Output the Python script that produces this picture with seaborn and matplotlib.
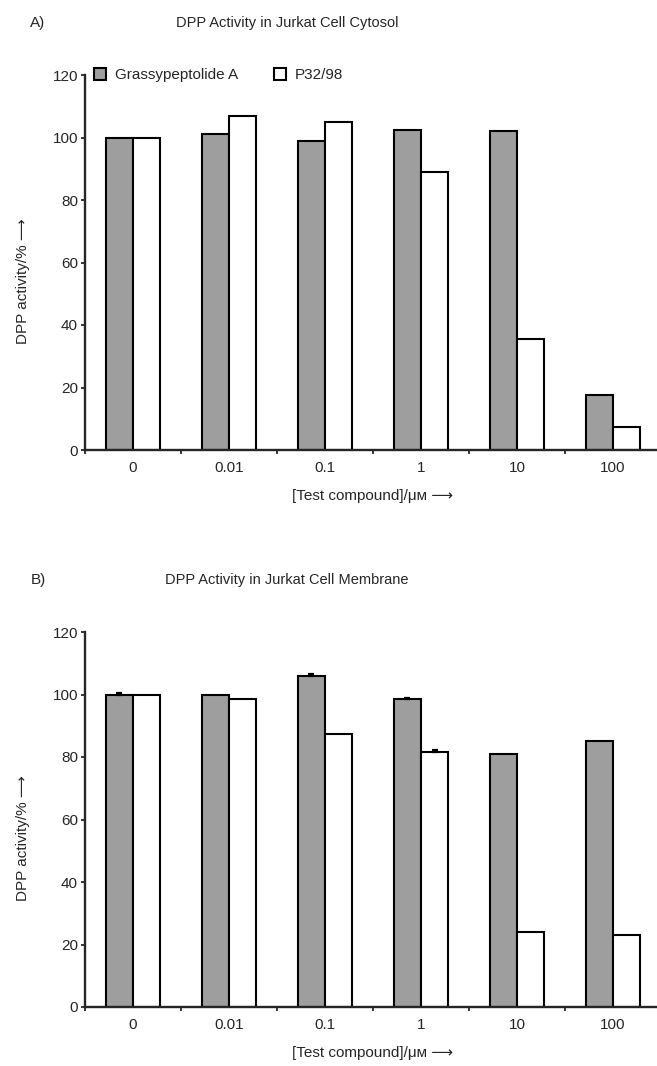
# DPP activity bar charts, two panels (cytosol / membrane)

import numpy as np
import pandas as pd
import matplotlib
matplotlib.use("Agg")
import matplotlib.pyplot as plt
import matplotlib.ticker as ticker
import seaborn as sns

# Data
concentrations = ["0", "0.01", "0.1", "1", "10", "100"]
compounds = ["Grassypeptolide A", "P32/98"]

cytosol_grassy = [100, 101, 99, 102.5, 102, 17.5]
cytosol_p32 = [100, 107, 105, 89, 35.5, 7.5]

membrane_grassy = [100, 100, 106, 98.5, 81, 85]
membrane_p32 = [100, 98.5, 87.5, 81.5, 24, 23]
membrane_grassy_err = [0.6, 0, 0.7, 0.5, 0, 0]
membrane_p32_err = [0, 0, 0, 0.6, 0, 0]

y_ticks = [0, 20, 40, 60, 80, 100, 120]

sns.set_style("ticks")
plt.rcParams["font.family"] = ["Liberation Sans", "DejaVu Sans"]

PALETTE = {"Grassypeptolide A": "#9e9e9e", "P32/98": "white"}
W, H = 657, 1066
FS = 11


def make_df(grassy, p32):
    return pd.DataFrame({
        "conc": concentrations * 2,
        "compound": [compounds[0]] * 6 + [compounds[1]] * 6,
        "value": list(grassy) + list(p32),
    })


def draw_panel(ax, df, errs=None, legend=False):
    sns.barplot(data=df, x="conc", y="value", hue="compound",
                palette=PALETTE, width=0.57, gap=0, edgecolor="black",
                linewidth=1.5, errorbar=None, ax=ax, legend=legend,
                saturation=1)

    if errs is not None:
        for container, err in zip(ax.containers, errs):
            for bar, e in zip(container, err):
                if e > 0:
                    ax.errorbar(bar.get_x() + bar.get_width() / 2, bar.get_height(),
                                yerr=[[0], [e]], color="black", capsize=2.5,
                                elinewidth=1.2, capthick=1.6)

    ax.set_xlim(-0.5, 5.5)
    ax.set_ylim(0, 120)
    ax.set_yticks(y_ticks)
    ax.xaxis.set_minor_locator(ticker.FixedLocator(np.arange(-0.5, 6, 1)))
    ax.tick_params(axis="x", which="major", length=0, labelsize=FS, pad=8)
    ax.tick_params(axis="x", which="minor", length=3, width=1.3, direction="out")
    ax.tick_params(axis="y", length=3, width=1.3, labelsize=FS, pad=2)
    for s in ["top", "right"]:
        ax.spines[s].set_visible(False)
    for s in ["left", "bottom"]:
        ax.spines[s].set_linewidth(1.7)
    ax.set_xlabel("[Test compound]/μᴍ ⟶", fontsize=FS, labelpad=10)
    ax.set_ylabel("DPP activity/% ⟶", fontsize=FS, labelpad=12)
    ax.yaxis.set_label_coords(-0.095, 0.45)

    if legend:
        handles, labels = ax.get_legend_handles_labels()
        ax.legend(handles, labels, loc="upper left", bbox_to_anchor=(0.005, 1.035),
                  ncol=2, frameon=False, fontsize=FS, handlelength=0.8,
                  handleheight=0.8, handletextpad=0.6, columnspacing=2.3,
                  borderaxespad=0)


fig = plt.figure(figsize=(W / 100, H / 100), dpi=100)

left = 85 / W
width = 576 / W
height = 375 / H

ax_a = fig.add_axes([left, (H - 450) / H, width, height])
draw_panel(ax_a, make_df(cytosol_grassy, cytosol_p32), legend=True)

ax_b = fig.add_axes([left, (H - 1007) / H, width, height])
draw_panel(ax_b, make_df(membrane_grassy, membrane_p32),
           errs=[membrane_grassy_err, membrane_p32_err])

fig.text(38 / W, 1 - 23 / H, "A)", fontsize=FS, ha="center", va="center")
fig.text(287 / W, 1 - 23 / H, "DPP Activity in Jurkat Cell Cytosol",
         fontsize=10.5, ha="center", va="center")
fig.text(38 / W, 1 - 580 / H, "B)", fontsize=FS, ha="center", va="center")
fig.text(287 / W, 1 - 580 / H, "DPP Activity in Jurkat Cell Membrane",
         fontsize=10.5, ha="center", va="center")

fig.savefig("out.png", dpi=100, facecolor="white")
